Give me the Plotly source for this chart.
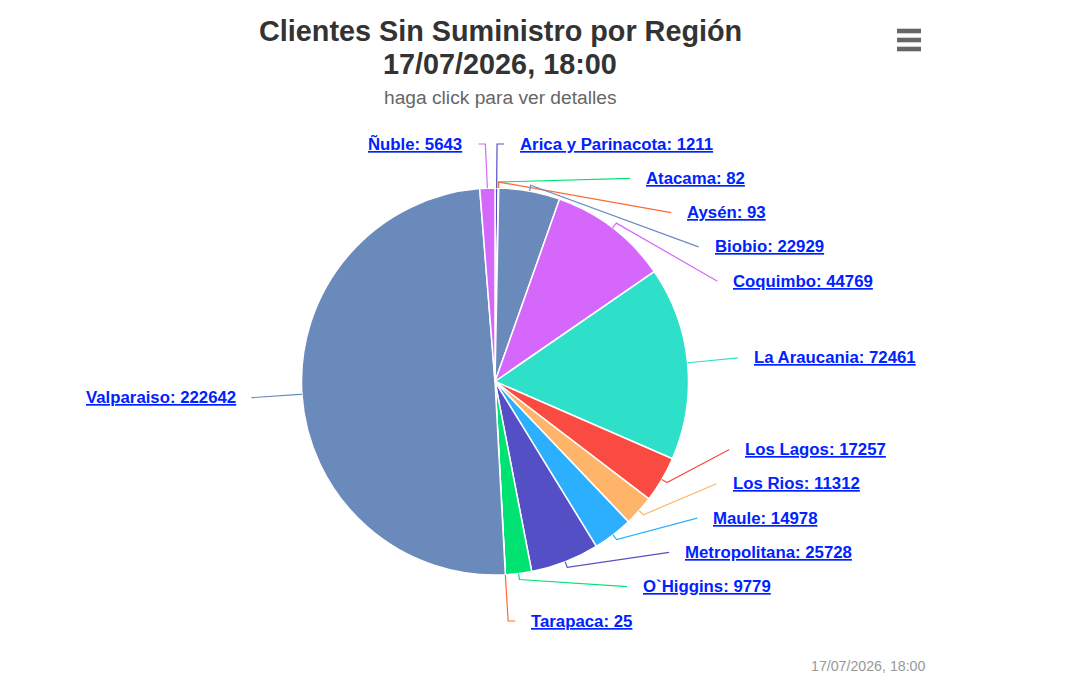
import math
import plotly.graph_objects as go

# Datos del grafico
regiones = ["Arica y Parinacota", "Atacama", "Aysén", "Biobio", "Coquimbo", "La Araucania",
            "Los Lagos", "Los Rios", "Maule", "Metropolitana", "O`Higgins", "Tarapaca",
            "Valparaiso", "Ñuble"]
clientes = [1211, 82, 93, 22929, 44769, 72461, 17257, 11312, 14978, 25728, 9779, 25,
            222642, 5643]
colores = ["#544fc5", "#00e272", "#fe6a35", "#6b8abc", "#d568fb", "#2ee0ca", "#fa4b42",
           "#feb56a", "#2caffe", "#544fc5", "#00e272", "#fe6a35", "#6b8abc", "#d568fb"]

titulo = "Clientes Sin Suministro por Región"
fecha = "17/07/2026, 18:00"
subtitulo = "haga click para ver detalles"

W, H = 1070, 695
CX, CY, R = 495, 381.5, 193.5     # centro y radio de la torta (px)
R_LAB = 244                       # radio donde terminan los conectores
PASO = 34.3                       # separacion minima entre etiquetas
Y_MIN, Y_MAX = 144, 621           # limites verticales de las etiquetas
AZUL = "#0022ff"
FUENTE = "Liberation Sans, Arial, sans-serif"


def px(x):
    return x / W


def py(y):
    return 1 - y / H


# angulo medio de cada porcion (sentido horario desde las 12)
total = sum(clientes)
angulos = []
acum = 0
for v in clientes:
    angulos.append(2 * math.pi * (acum + v / 2) / total)
    acum += v

nat_y = [CY - R_LAB * math.cos(a) for a in angulos]
derecha = [math.sin(a) >= 0 for a in angulos]


# reparte las etiquetas de un lado para que no se monten
def repartir(idx):
    idx = sorted(idx, key=lambda i: nat_y[i])
    ys = {}
    prev = None
    for i in idx:
        ys[i] = max(nat_y[i], Y_MIN if prev is None else prev + PASO)
        prev = ys[i]
    sig = None
    for i in reversed(idx):
        ys[i] = min(ys[i], Y_MAX if sig is None else sig - PASO)
        sig = ys[i]
    return ys


pos_y = {}
pos_y.update(repartir([i for i in range(len(clientes)) if derecha[i]]))
pos_y.update(repartir([i for i in range(len(clientes)) if not derecha[i]]))

fig = go.Figure(go.Pie(
    labels=regiones, values=clientes, sort=False, direction="clockwise", rotation=0,
    marker=dict(colors=colores, line=dict(color="white", width=1.5)),
    textinfo="none", showlegend=False,
    hovertemplate="%{label}: %{value}<extra></extra>",
    domain=dict(x=[px(CX - R), px(CX + R)], y=[py(CY + R), py(CY - R)]),
))

shapes = []
annotations = []
for i, a in enumerate(angulos):
    s = 1 if derecha[i] else -1
    y = pos_y[i]
    dy = y - CY
    x0, y0 = CX + R * math.sin(a), CY - R * math.cos(a)
    x1, y1 = CX + (R + 6) * math.sin(a), CY - (R + 6) * math.cos(a)
    pts = [(x0, y0), (x1, y1)]
    if abs(dy) > R_LAB - 8:
        xe = CX + R_LAB * math.sin(a)
        pts += [(xe, y), (xe + s * 7, y)]
    else:
        xe = CX + s * math.sqrt(R_LAB ** 2 - dy ** 2)
        pts.append((xe, y))
    path = "M " + " L ".join(f"{px(p[0]):.5f},{py(p[1]):.5f}" for p in pts)
    shapes.append(dict(type="path", xref="paper", yref="paper", path=path,
                       line=dict(color=colores[i], width=1.2)))
    xl = pts[-1][0] + s * 14
    annotations.append(dict(
        x=px(xl), y=py(y), xref="paper", yref="paper", showarrow=False,
        xanchor="left" if derecha[i] else "right", yanchor="middle",
        text=f"{regiones[i]}: {clientes[i]}",
        font=dict(family=FUENTE, size=16.8, color=AZUL,
                  weight="bold", lineposition="under"),
    ))

# titulo, subtitulo y creditos
annotations += [
    dict(x=px(500), y=py(31), text=f"<b>{titulo}</b>",
         font=dict(size=28.8, color="#333333")),
    dict(x=px(500), y=py(64), text=f"<b>{fecha}</b>",
         font=dict(size=28.8, color="#333333")),
    dict(x=px(500), y=py(98), text=subtitulo, font=dict(size=19.2, color="#666666")),
    dict(x=px(928), y=py(666), text=fecha, xanchor="right",
         font=dict(size=14.2, color="#999999")),
]
for an in annotations[-4:]:
    an.update(xref="paper", yref="paper", showarrow=False, yanchor="middle")
    an.setdefault("xanchor", "center")
    an["font"]["family"] = FUENTE

# icono de menu
for yb in (31, 40, 49):
    shapes.append(dict(type="rect", xref="paper", yref="paper",
                       x0=px(897), x1=px(921), y0=py(yb + 2.3), y1=py(yb - 2.3),
                       fillcolor="#666666", line=dict(width=0)))

fig.update_layout(
    width=W, height=H, margin=dict(l=0, r=0, t=0, b=0),
    paper_bgcolor="white", plot_bgcolor="white",
    shapes=shapes, annotations=annotations,
)

fig.write_html("out.html", config={"displayModeBar": False},
               post_script="document.body.style.margin='0';document.body.style.overflow='hidden';")
